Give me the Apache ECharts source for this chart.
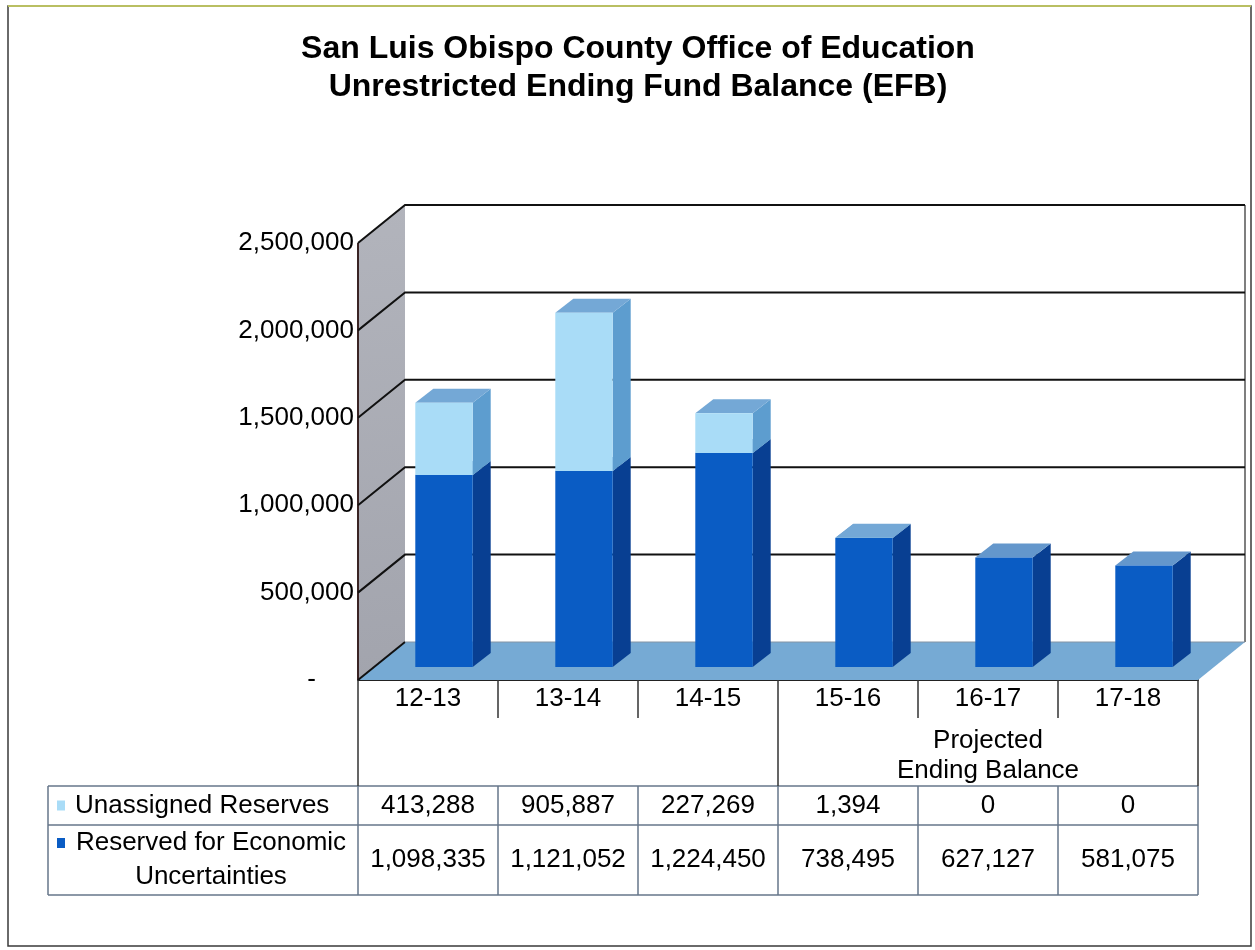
<!DOCTYPE html>
<html><head><meta charset="utf-8">
<script src="https://cdn.jsdelivr.net/npm/echarts@6/dist/echarts.min.js"></script>
<style>html,body{margin:0;padding:0;background:#fff}#c{width:1255px;height:950px}</style>
</head><body><div id="c"></div>
<script>
// ---- data ----
const categories = ['12-13', '13-14', '14-15', '15-16', '16-17', '17-18'];
const unassignedReserves = [413288, 905887, 227269, 1394, 0, 0];
const reservedEconomic = [1098335, 1121052, 1224450, 738495, 627127, 581075];
const yTicks = [0, 500000, 1000000, 1500000, 2000000, 2500000];
const groupLabels = ['', 'Projected\nEnding Balance'];
const seriesNames = ['Unassigned Reserves', 'Reserved for Economic\nUncertainties'];
const titleLines = ['San Luis Obispo County Office of Education', 'Unrestricted Ending Fund Balance (EFB)'];

// ---- style / projection ----
const FONT = "'Liberation Sans', Arial, sans-serif";
const FS = 26;
const DEPTH = [47, -38];
const BAR_OFF = [16, -13];
const BAR_DEPTH = [18, -14];
const BAR_W = 0.41;
const COLORS = {
  darkFront: '#0a5cc4', darkSide: '#083f92', darkTop: '#6497cc',
  lightFront: '#a9dcf7', lightSide: '#5d9dcf', lightTop: '#74a8d6',
  floor: '#76aad4', grid: '#111'
};
const yMax = yTicks[yTicks.length - 1];

const reservedData = categories.map((c, i) => [i, 0, reservedEconomic[i]]);
const unassignedData = categories.map((c, i) => [i, reservedEconomic[i], reservedEconomic[i] + unassignedReserves[i]]);

function renderWalls(params, api) {
  const bw = api.size([1, 0])[0];
  const p0 = api.coord([0, 0]);
  const left = p0[0] - bw / 2;
  const right = api.coord([categories.length - 1, 0])[0] + bw / 2;
  const y0 = p0[1];
  const yT = api.coord([0, yMax])[1];
  const dx = DEPTH[0], dy = DEPTH[1];
  const ch = [];
  ch.push({ type: 'polygon', shape: { points: [[left + dx, yT + dy], [right + dx, yT + dy], [right + dx, y0 + dy], [left + dx, y0 + dy]] }, style: { fill: '#fff' } });
  ch.push({ type: 'polygon', shape: { points: [[left, y0], [left, yT], [left + dx, yT + dy], [left + dx, y0 + dy]] },
    style: { fill: new echarts.graphic.LinearGradient(0, 0, 1, 1, [{ offset: 0, color: '#b2b4bc' }, { offset: 1, color: '#a2a4ad' }]) } });
  ch.push({ type: 'polygon', shape: { points: [[left, y0], [right, y0], [right + dx, y0 + dy], [left + dx, y0 + dy]] }, style: { fill: COLORS.floor } });
  ch.push({ type: 'line', shape: { x1: right + dx, y1: yT + dy, x2: right + dx, y2: y0 + dy }, style: { stroke: '#555', lineWidth: 1.5 } });
  ch.push({ type: 'line', shape: { x1: left, y1: yT, x2: left, y2: y0 }, style: { stroke: '#3a2424', lineWidth: 2 } });
  yTicks.forEach(v => {
    const y = api.coord([0, v])[1];
    if (v === 0) {
      ch.push({ type: 'line', shape: { x1: left, y1: y, x2: left + dx, y2: y + dy }, style: { stroke: COLORS.grid, lineWidth: 2 } });
      ch.push({ type: 'line', shape: { x1: left + dx, y1: y + dy, x2: right + dx, y2: y + dy }, style: { stroke: '#8494a4', lineWidth: 1 } });
    } else {
      ch.push({ type: 'polyline', shape: { points: [[left, y], [left + dx, y + dy], [right + dx, y + dy]] }, style: { stroke: COLORS.grid, lineWidth: 2, fill: null } });
    }
  });
  return { type: 'group', children: ch };
}

function makeBarRender(front, side, top) {
  return function (params, api) {
    const i = api.value(0), lo = api.value(1), hi = api.value(2);
    if (!(hi > lo)) return;
    const bw = api.size([1, 0])[0];
    const cb = api.coord([i, lo]);
    const ct = api.coord([i, hi]);
    const w = bw * BAR_W;
    const x0 = cb[0] + BAR_OFF[0] - w / 2;
    const yb = cb[1] + BAR_OFF[1];
    const yt = ct[1] + BAR_OFF[1];
    const ddx = BAR_DEPTH[0], ddy = BAR_DEPTH[1];
    return {
      type: 'group',
      children: [
        { type: 'polygon', shape: { points: [[x0 + w, yb], [x0 + w + ddx, yb + ddy], [x0 + w + ddx, yt + ddy], [x0 + w, yt]] }, style: { fill: side } },
        { type: 'polygon', shape: { points: [[x0, yt], [x0 + w, yt], [x0 + w + ddx, yt + ddy], [x0 + ddx, yt + ddy]] }, style: { fill: top } },
        { type: 'rect', shape: { x: x0, y: yt, width: w, height: yb - yt }, style: { fill: front } }
      ]
    };
  };
}

const chart = echarts.init(document.getElementById('c'), null, { renderer: 'canvas' });
const GRID = { left: 358, top: 243, width: 840, height: 437 };

chart.setOption({
  animation: false,
  backgroundColor: '#fff',
  textStyle: { fontFamily: FONT },
  title: {
    text: titleLines.join('\n'),
    left: 633, top: 25, textAlign: 'center',
    textStyle: { fontSize: 32, fontWeight: 'bold', color: '#000', lineHeight: 38, fontFamily: FONT }
  },
  grid: GRID,
  xAxis: [
    {
      type: 'category', data: categories, position: 'bottom',
      axisLine: { show: true, lineStyle: { color: '#222', width: 2 } },
      axisTick: { show: true, length: 38, lineStyle: { color: '#333', width: 1.5 } },
      axisLabel: { fontSize: FS, color: '#000', margin: 6, fontFamily: FONT },
      splitLine: { show: false }
    },
    {
      type: 'category', data: groupLabels, position: 'bottom', gridIndex: 0,
      axisLine: { show: false },
      axisTick: { show: true, length: 106, lineStyle: { color: '#333', width: 1.5 } },
      axisLabel: { fontSize: FS, color: '#000', margin: 46, lineHeight: 30, fontFamily: FONT },
      splitLine: { show: false }
    }
  ],
  yAxis: {
    type: 'value', min: 0, max: yMax, interval: 500000,
    axisLine: { show: false }, axisTick: { show: false }, splitLine: { show: false },
    axisLabel: {
      margin: 4, fontSize: FS, color: '#000', fontFamily: FONT,
      formatter: v => v === 0 ? '{d|-}' : v.toLocaleString('en-US'),
      rich: { d: { fontSize: FS, padding: [0, 38, 0, 0], color: '#000' } }
    }
  },
  series: [
    { type: 'custom', name: 'walls', z: 1, clip: false, silent: true, data: [[0, 0]], encode: { x: 0, y: 1 }, renderItem: renderWalls },
    { type: 'custom', name: seriesNames[1].replace('\n', ' '), z: 3, clip: false, data: reservedData, encode: { x: 0, y: [1, 2] },
      renderItem: makeBarRender(COLORS.darkFront, COLORS.darkSide, COLORS.darkTop) },
    { type: 'custom', name: seriesNames[0], z: 4, clip: false, data: unassignedData, encode: { x: 0, y: [1, 2] },
      renderItem: makeBarRender(COLORS.lightFront, COLORS.lightSide, COLORS.lightTop) }
  ]
});

// ---- data table (built from the arrays, positioned with the axis scale) ----
const colX = categories.map((c, i) => chart.convertToPixel({ xAxisIndex: 0 }, i));
const bandW = colX.length > 1 ? colX[1] - colX[0] : 140;
const tLeft = 48, gLeft = colX[0] - bandW / 2, gRight = colX[colX.length - 1] + bandW / 2;
const rowY = [786, 825, 895];
const lineStyle = { stroke: '#66768a', lineWidth: 1.5 };
const g = [];
rowY.forEach(y => g.push({ type: 'line', shape: { x1: tLeft, y1: y, x2: gRight, y2: y }, style: lineStyle }));
const vx = [tLeft, gLeft].concat(colX.map(x => x + bandW / 2));
vx.forEach(x => g.push({ type: 'line', shape: { x1: x, y1: rowY[0], x2: x, y2: rowY[2] }, style: lineStyle }));
const rowMid = [(rowY[0] + rowY[1]) / 2, (rowY[1] + rowY[2]) / 2];
const tf = FS + 'px ' + FONT;
// legend keys + row labels
g.push({ type: 'rect', shape: { x: 57, y: rowMid[0] - 5, width: 8, height: 10 }, style: { fill: COLORS.lightFront } });
g.push({ type: 'text', x: 75, y: rowMid[0], style: { text: seriesNames[0], font: tf, fill: '#000', textAlign: 'left', textVerticalAlign: 'middle' } });
g.push({ type: 'rect', shape: { x: 57, y: rowMid[1] - 22, width: 8, height: 10 }, style: { fill: COLORS.darkFront } });
g.push({ type: 'text', x: 211, y: rowMid[1], style: { text: seriesNames[1], font: tf, lineHeight: 34, fill: '#000', textAlign: 'center', textVerticalAlign: 'middle' } });
// values
categories.forEach((c, i) => {
  g.push({ type: 'text', x: colX[i], y: rowMid[0], style: { text: unassignedReserves[i].toLocaleString('en-US'), font: tf, fill: '#000', textAlign: 'center', textVerticalAlign: 'middle' } });
  g.push({ type: 'text', x: colX[i], y: rowMid[1], style: { text: reservedEconomic[i].toLocaleString('en-US'), font: tf, fill: '#000', textAlign: 'center', textVerticalAlign: 'middle' } });
});
// outer frame
g.push({ type: 'rect', z: -1, shape: { x: 8, y: 6, width: 1243, height: 940 }, style: { fill: null, stroke: '#3a3a3a', lineWidth: 1.5 } });
g.push({ type: 'line', shape: { x1: 8, y1: 6, x2: 1251, y2: 6 }, style: { stroke: '#b9bf62', lineWidth: 2 } });

chart.setOption({ graphic: { elements: g } });
</script>
</body></html>
